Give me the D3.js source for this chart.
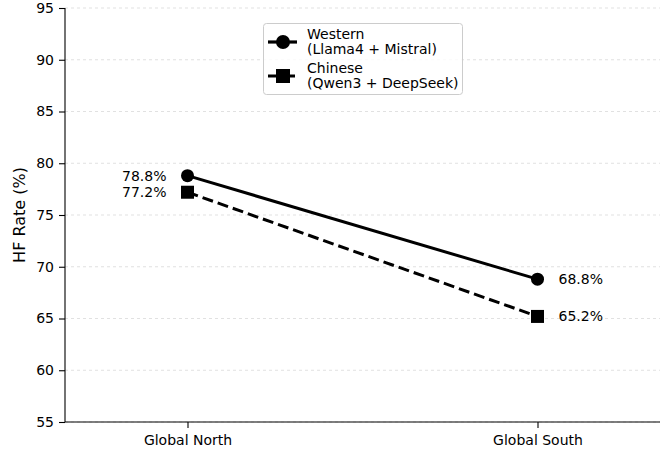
<!DOCTYPE html>
<html><head><meta charset="utf-8">
<script src="https://cdn.jsdelivr.net/npm/d3@7"></script>
<style>body{margin:0;background:#fff}svg{font-family:"DejaVu Sans",sans-serif}</style>
</head><body><svg id="c" width="667" height="450"></svg>
<script>
const categories = ["Global North", "Global South"];
const western = [78.8, 68.8];
const chinese = [77.2, 65.2];
const seriesNames = ["Western\n(Llama4 + Mistral)", "Chinese\n(Qwen3 + DeepSeek)"];
const yTicks = [55, 60, 65, 70, 75, 80, 85, 90, 95];

const svg = d3.select("#c");
const m = {l: 65, r: 660, t: 8, b: 422};
const x = d3.scaleLinear().domain([-0.35, 1.35]).range([m.l, m.r]);
const y = d3.scaleLinear().domain([55, 95]).range([m.b, m.t]);

// grid
svg.append("g").selectAll("line").data(yTicks).join("line")
  .attr("x1", m.l).attr("x2", m.r).attr("y1", d => y(d)).attr("y2", d => y(d))
  .attr("stroke", "#d9d9d9").attr("stroke-width", 0.8).attr("stroke-dasharray", "3,3");

// axes
const ya = svg.append("g").attr("transform", `translate(${m.l},0)`)
  .call(d3.axisLeft(y).tickValues(yTicks).tickSize(6).tickPadding(5));
const xa = svg.append("g").attr("transform", `translate(0,${m.b})`)
  .call(d3.axisBottom(x).tickValues([0, 1]).tickFormat(i => categories[i]).tickSize(6).tickPadding(7));
[ya, xa].forEach(a => {
  a.attr("font-size", 14).attr("font-family", "DejaVu Sans");
  a.selectAll("text").attr("font-size", 14).attr("fill", "#000");
  a.selectAll("line,path").attr("stroke", "#000").attr("stroke-width", 1.1);
});
ya.select(".domain").attr("d", `M0,${m.b}V${m.t}`);
xa.select(".domain").attr("d", `M${m.l},0H${m.r}`);

svg.append("text").attr("transform", `translate(25,${(m.t + m.b) / 2}) rotate(-90)`)
  .attr("text-anchor", "middle").attr("font-size", 16).text("HF Rate (%)");

const line = d3.line().x((d, i) => x(i)).y(d => y(d));
svg.append("path").datum(western).attr("d", line).attr("fill", "none")
  .attr("stroke", "#000").attr("stroke-width", 3);
svg.append("path").datum(chinese).attr("d", line).attr("fill", "none")
  .attr("stroke", "#000").attr("stroke-width", 3).attr("stroke-dasharray", "11,5");

svg.append("g").selectAll("circle").data(western).join("circle")
  .attr("cx", (d, i) => x(i)).attr("cy", d => y(d)).attr("r", 6.5).attr("fill", "#000");
svg.append("g").selectAll("rect").data(chinese).join("rect")
  .attr("x", (d, i) => x(i) - 6.5).attr("y", d => y(d) - 6.5).attr("width", 13).attr("height", 13).attr("fill", "#000");

// value labels
function labels(data) {
  svg.append("g").selectAll("text").data(data).join("text")
    .attr("x", (d, i) => i === 0 ? x(i) - 21 : x(i) + 21)
    .attr("y", d => y(d)).attr("dy", "0.35em")
    .attr("text-anchor", (d, i) => i === 0 ? "end" : "start")
    .attr("font-size", 14).text(d => d.toFixed(1) + "%");
}
labels(western); labels(chinese);

// legend
const lg = svg.append("g").attr("transform", "translate(263,23)");
lg.append("rect").attr("x", 0.5).attr("y", 0.5).attr("width", 199).attr("height", 71).attr("rx", 3)
  .attr("fill", "#fff").attr("fill-opacity", 0.8).attr("stroke", "#ccc");
seriesNames.forEach((n, k) => {
  const cy = 19 + k * 34;
  lg.append("line").attr("x1", 5).attr("x2", 34).attr("y1", cy).attr("y2", cy)
    .attr("stroke", "#000").attr("stroke-width", 3.2).attr("stroke-dasharray", k ? "11,5" : null);
  if (k === 0) lg.append("circle").attr("cx", 20).attr("cy", cy).attr("r", 7).attr("fill", "#000");
  else lg.append("rect").attr("x", 13).attr("y", cy - 7).attr("width", 14).attr("height", 14).attr("fill", "#000");
  const t = lg.append("text").attr("x", 44).attr("y", cy - 7).attr("font-size", 14);
  n.split("\n").forEach((s, j) => t.append("tspan").attr("x", 44).attr("dy", j ? 14.5 : 0).text(s));
  t.attr("dominant-baseline", "middle");
});
</script></body></html>
